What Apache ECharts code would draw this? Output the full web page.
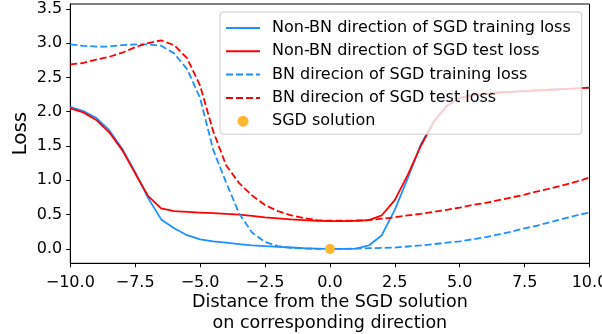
<!DOCTYPE html>
<html>
<head>
<meta charset="utf-8">
<script src="https://cdn.jsdelivr.net/npm/echarts@6/dist/echarts.min.js"></script>
<style>
  html, body { margin: 0; padding: 0; background: #fff; }
  #chart { width: 602px; height: 334px; }
</style>
</head>
<body>
<div id="chart"></div>
<script>
// Distance along each direction from the SGD solution
const distances = [
  -10, -9.5, -9, -8.5, -8, -7.5, -7, -6.5, -6, -5.5, -5, -4.5, -4, -3.5, -3, -2.5, -2, -1.5, -1, -0.5,
  0, 0.5, 1, 1.5, 2, 2.5, 3, 3.5, 4, 4.5, 5, 5.5, 6, 6.5, 7, 7.5, 8, 8.5, 9, 9.5, 10
];

const nonBnTrain = [
  2.07, 2.01, 1.91, 1.73, 1.46, 1.12, 0.74, 0.43, 0.30, 0.20, 0.14, 0.11, 0.09, 0.07, 0.05, 0.04, 0.03, 0.02, 0.01, 0.005,
  0.0, 0.0, 0.005, 0.05, 0.20, 0.57, 1.03, 1.52, 1.86, 2.09, 2.20, 2.24, 2.26, 2.28, 2.29, 2.30, 2.31, 2.32, 2.33, 2.34, 2.35
];

const nonBnTest = [
  2.05, 1.99, 1.88, 1.70, 1.44, 1.10, 0.77, 0.59, 0.55, 0.54, 0.53, 0.52, 0.51, 0.50, 0.48, 0.46, 0.445, 0.43, 0.42, 0.41,
  0.405, 0.405, 0.41, 0.42, 0.49, 0.71, 1.08, 1.50, 1.85, 2.08, 2.20, 2.24, 2.26, 2.28, 2.29, 2.30, 2.31, 2.32, 2.33, 2.34, 2.35
];

const bnTrain = [
  2.98, 2.96, 2.95, 2.95, 2.97, 2.98, 2.98, 2.96, 2.85, 2.62, 2.20, 1.45, 0.97, 0.52, 0.24, 0.10, 0.04, 0.015, 0.005, 0.0,
  0.0, 0.0, 0.005, 0.01, 0.015, 0.02, 0.035, 0.05, 0.07, 0.09, 0.11, 0.14, 0.17, 0.21, 0.25, 0.30, 0.34, 0.39, 0.44, 0.49, 0.53
];

const bnTest = [
  2.69, 2.71, 2.76, 2.80, 2.86, 2.94, 3.00, 3.04, 2.97, 2.78, 2.38, 1.72, 1.22, 0.96, 0.78, 0.64, 0.55, 0.49, 0.45, 0.42,
  0.41, 0.41, 0.41, 0.42, 0.44, 0.46, 0.49, 0.51, 0.54, 0.57, 0.60, 0.64, 0.67, 0.71, 0.75, 0.79, 0.84, 0.88, 0.93, 0.98, 1.04
];

const solutionPoint = [[0, 0]];

const xTicks = [-10, -7.5, -5, -2.5, 0, 2.5, 5, 7.5, 10];
const yTicks = [0, 0.5, 1, 1.5, 2, 2.5, 3, 3.5];

const seriesNames = [
  'Non-BN direction of SGD training loss',
  'Non-BN direction of SGD test loss',
  'BN direcion of SGD training loss',
  'BN direcion of SGD test loss',
  'SGD solution'
];

const BLUE = '#1E90FF';
const RED = '#FF0000';
const ORANGE = '#FFB732';
const FONT = 'DejaVu Sans';

function pairs(ys) {
  return distances.map((x, i) => [x, ys[i]]);
}

function fmt(v) {
  return v.toFixed(1).replace('-', '\u2212');
}

function lineSeries(name, ys, color, dashed) {
  return {
    name: name,
    type: 'line',
    data: pairs(ys),
    symbol: 'none',
    lineStyle: { color: color, width: 1.8, type: dashed ? [7, 3] : 'solid' },
    itemStyle: { color: color },
    z: 2,
    animation: false
  };
}

// Line entries show only their stroke in the legend; the scatter entry keeps its dot.
const legendData = seriesNames.slice(0, 4).map(n => ({ name: n, itemStyle: { opacity: 0 } }))
  .concat([{ name: seriesNames[4], icon: 'circle' }]);

const chart = echarts.init(document.getElementById('chart'), null, { renderer: 'canvas' });

chart.setOption({
  animation: false,
  backgroundColor: '#fff',
  textStyle: { fontFamily: FONT },
  grid: {
    left: 70.3, right: 12.5, top: 4, bottom: 70.7,
    containLabel: false,
    outerBoundsMode: 'none',
    show: true, borderColor: '#000', borderWidth: 1, backgroundColor: 'transparent'
  },
  legend: {
    orient: 'vertical',
    left: 220, top: 12,
    padding: [7, 11, 4, 5],
    itemGap: 5.3,
    itemWidth: 34, itemHeight: 11,
    backgroundColor: 'rgba(255,255,255,0.8)',
    borderColor: '#cccccc', borderWidth: 1, borderRadius: 3,
    textStyle: { fontFamily: FONT, fontSize: 16, color: '#000', lineHeight: 18, padding: [0, 0, 0, 7] },
    data: legendData
  },
  xAxis: {
    type: 'value',
    min: -10, max: 10,
    interval: 2.5,
    name: 'Distance from the SGD solution\non corresponding direction',
    nameLocation: 'middle',
    nameGap: 29,
    nameMoveOverlap: false,
    nameTextStyle: { fontFamily: FONT, fontSize: 17.5, color: '#000', lineHeight: 21 },
    axisLine: { show: true, onZero: false, lineStyle: { color: '#000', width: 1 } },
    axisTick: { show: true, length: 4, inside: false, customValues: xTicks, lineStyle: { color: '#000' } },
    axisLabel: { customValues: xTicks, formatter: fmt, fontFamily: FONT, fontSize: 16, color: '#000', margin: 12 },
    splitLine: { show: false }
  },
  yAxis: {
    type: 'value',
    min: -0.21, max: 3.57,
    name: 'Loss',
    nameLocation: 'middle',
    nameGap: 40,
    nameMoveOverlap: false,
    nameRotate: 90,
    nameTextStyle: { fontFamily: FONT, fontSize: 20, color: '#000' },
    axisLine: { show: true, onZero: false, lineStyle: { color: '#000', width: 1 } },
    axisTick: { show: true, length: 4, inside: false, customValues: yTicks, lineStyle: { color: '#000' } },
    axisLabel: { customValues: yTicks, formatter: fmt, fontFamily: FONT, fontSize: 16, color: '#000', margin: 8 },
    splitLine: { show: false }
  },
  series: [
    lineSeries(seriesNames[0], nonBnTrain, BLUE, false),
    lineSeries(seriesNames[1], nonBnTest, RED, false),
    lineSeries(seriesNames[2], bnTrain, BLUE, true),
    lineSeries(seriesNames[3], bnTest, RED, true),
    {
      name: seriesNames[4],
      type: 'scatter',
      data: solutionPoint,
      symbol: 'circle',
      symbolSize: 10,
      itemStyle: { color: ORANGE, opacity: 1 },
      z: 3,
      animation: false
    }
  ]
});
</script>
</body>
</html>
